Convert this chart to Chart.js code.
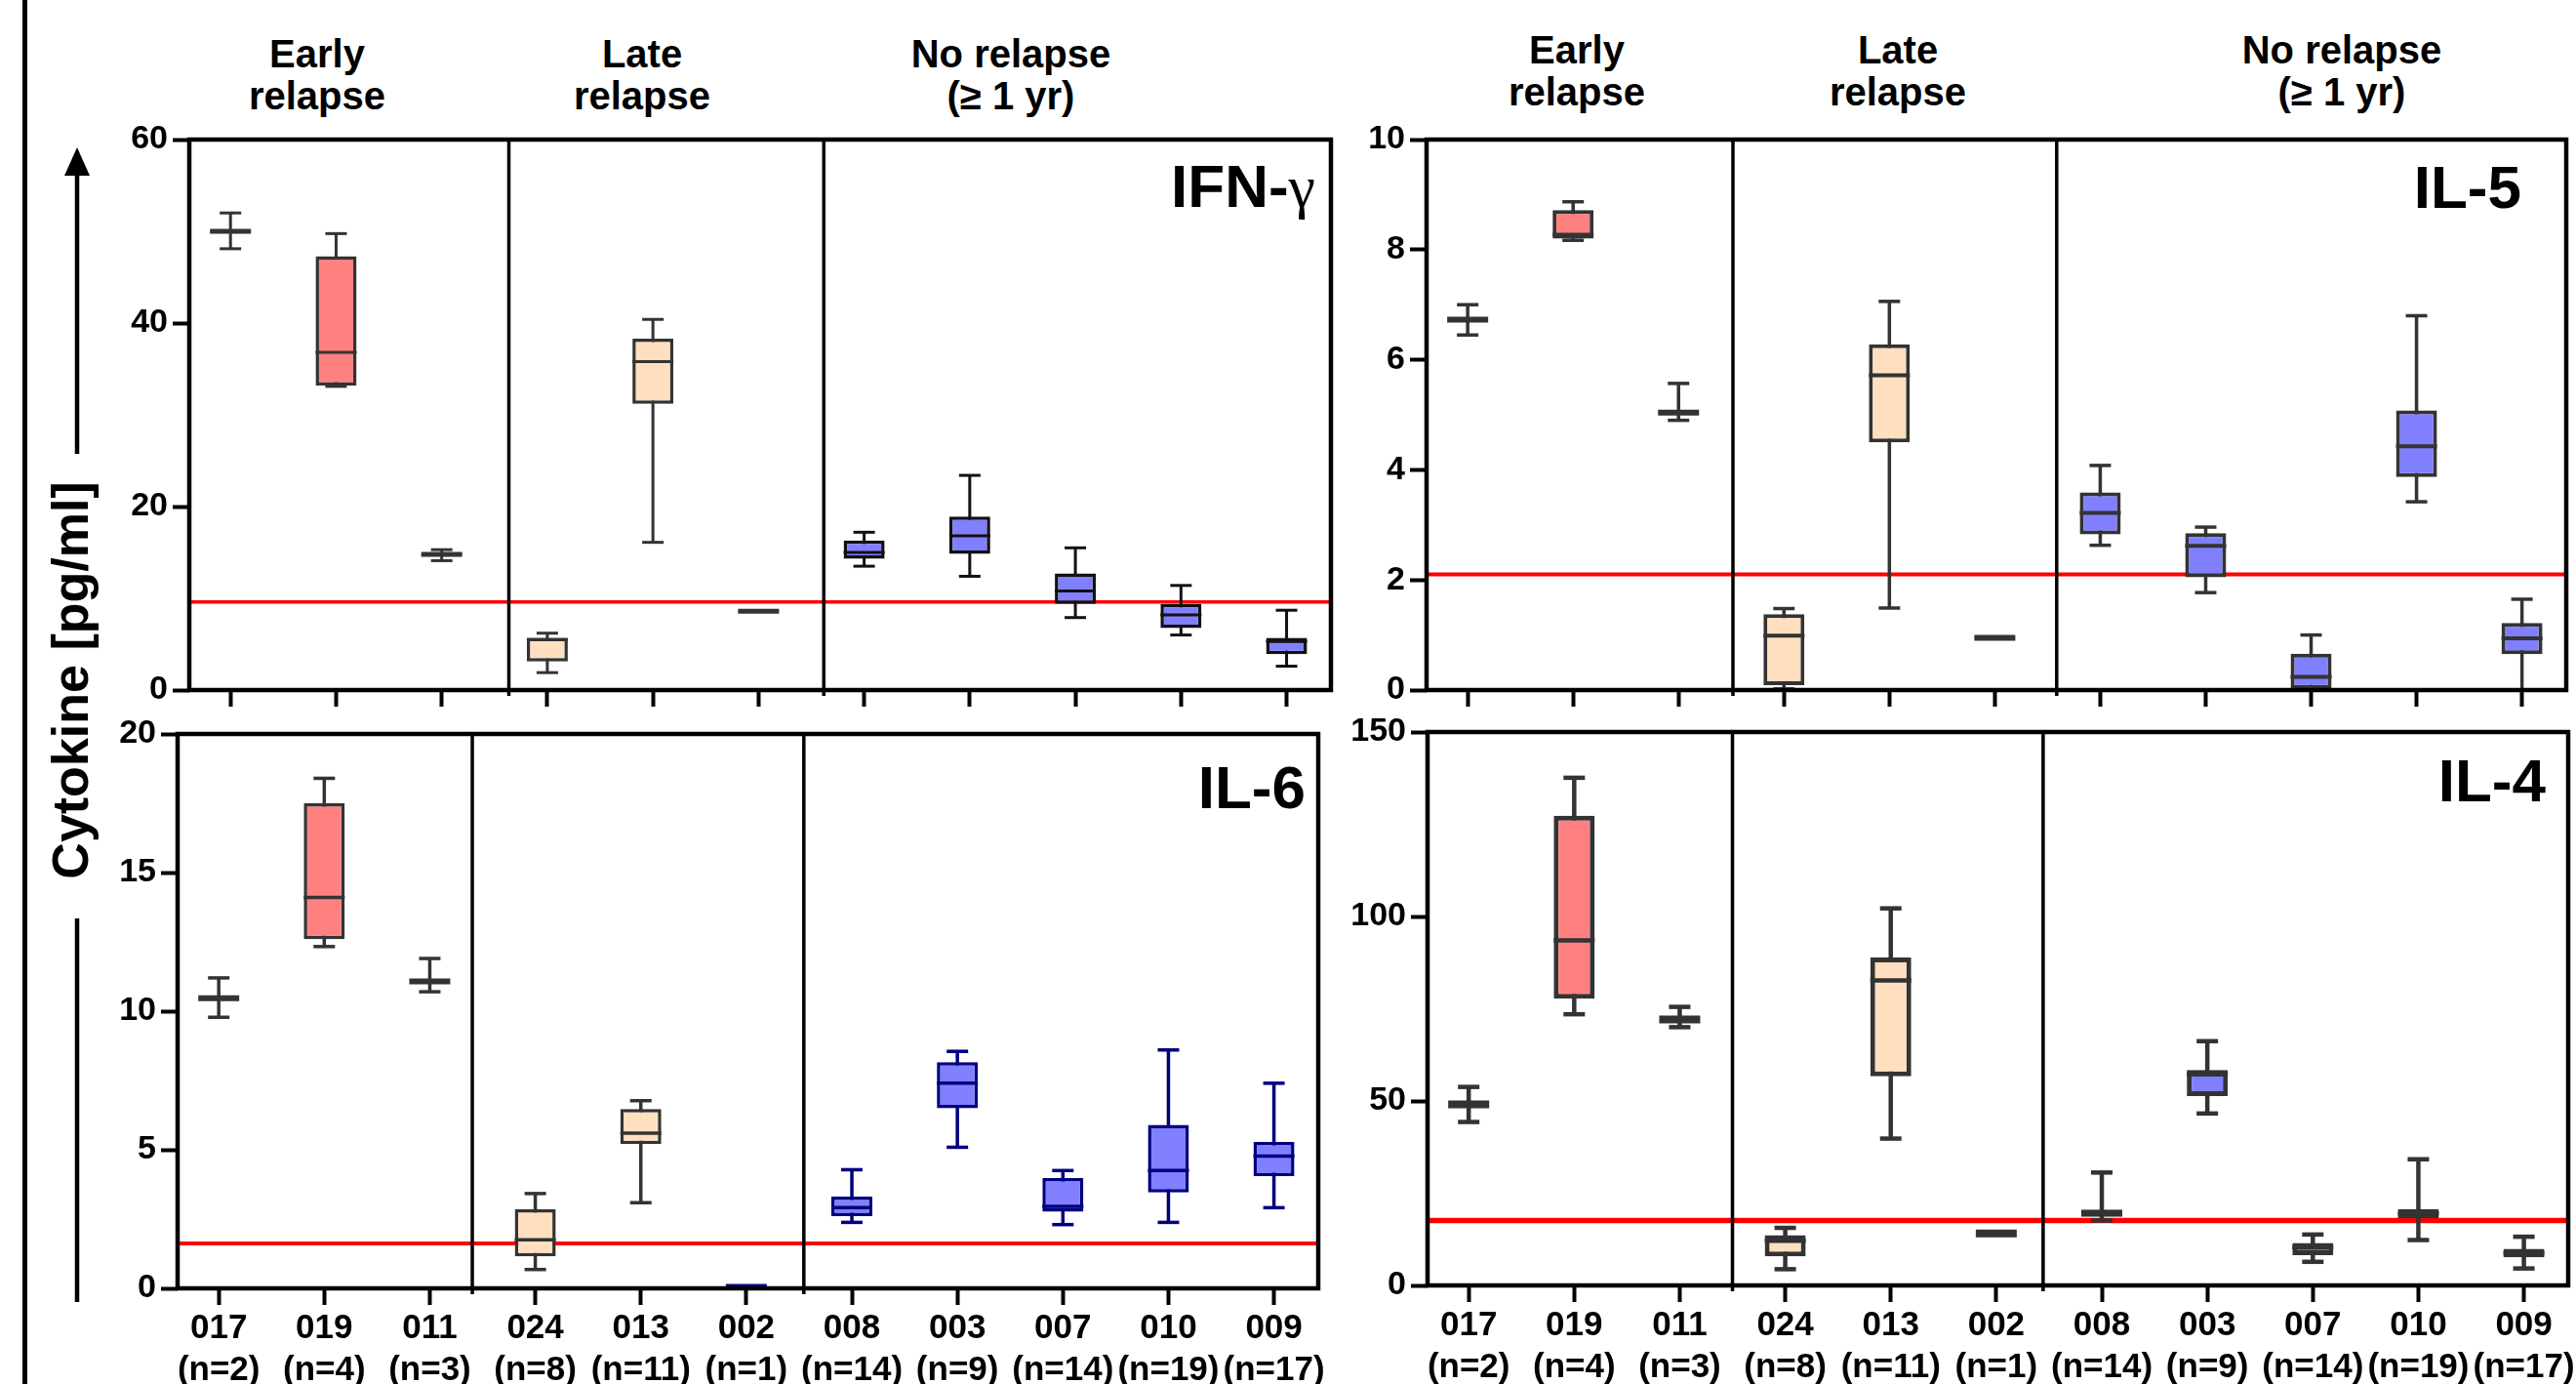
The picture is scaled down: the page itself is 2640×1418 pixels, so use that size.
<!DOCTYPE html>
<html>
<head>
<meta charset="utf-8">
<script src="https://cdn.jsdelivr.net/npm/chart.js@4.4.0/dist/chart.umd.min.js"></script>
<style>
html, body { margin:0; padding:0; background:#fff; overflow:hidden; }
#page { position:relative; width:2640px; height:1418px; overflow:hidden; font-family:'Liberation Sans', Arial, sans-serif; font-weight:bold; color:#000; }
canvas { position:absolute; }
.head { position:absolute; width:400px; text-align:center; font-size:40px; line-height:42.5px; }
.tag { position:absolute; font-size:62px; line-height:62px; white-space:nowrap; }
</style>
</head>
<body>
<div id="page">
  <div style="position:absolute;left:23px;top:0;width:5px;height:1418px;background:#000"></div>

  <svg style="position:absolute;left:0;top:0" width="140" height="1418">
    <line x1="79" y1="176" x2="79" y2="465" stroke="#000" stroke-width="4.5"/>
    <polygon points="79,151 66,180 92,180" fill="#000"/>
    <line x1="79" y1="941" x2="79" y2="1334" stroke="#000" stroke-width="4.5"/>
  </svg>
  <div style="position:absolute;left:-148px;top:671px;width:440px;height:52px;text-align:center;font-size:52px;line-height:52px;transform:rotate(-90deg)">Cytokine [pg/ml]</div>

  <div class="head" style="left:125px;top:34px">Early<br>relapse</div>
  <div class="head" style="left:458px;top:34px">Late<br>relapse</div>
  <div class="head" style="left:836px;top:34px">No relapse<br>(≥ 1 yr)</div>
  <div class="head" style="left:1416px;top:30px">Early<br>relapse</div>
  <div class="head" style="left:1745px;top:30px">Late<br>relapse</div>
  <div class="head" style="left:2200px;top:30px">No relapse<br>(≥ 1 yr)</div>

  <canvas id="ifn"></canvas>
  <canvas id="il5"></canvas>
  <canvas id="il6"></canvas>
  <canvas id="il4"></canvas>

  <div class="tag" style="right:1292px;top:160px">IFN-<span style="font-family:'Liberation Serif',serif;font-weight:normal">γ</span></div>
  <div class="tag" style="right:56px;top:161px">IL-5</div>
  <div class="tag" style="right:1302px;top:776px">IL-6</div>
  <div class="tag" style="right:31px;top:769px">IL-4</div>
</div>

<script>
// patients (x axis)
const ids = ['017', '019', '011', '024', '013', '002', '008', '003', '007', '010', '009'];
const ns = ['(n=2)', '(n=4)', '(n=3)', '(n=8)', '(n=11)', '(n=1)', '(n=14)', '(n=9)', '(n=14)', '(n=19)', '(n=17)'];

// IFN-gamma
const ifnMin = [48.1, 33.1, 14.1, 1.9, 16.1, null, 13.5, 12.4, 7.9, 6.0, 2.6];
const ifnQ1  = [null, 33.2, null, 3.1, 31.2, null, 14.3, 14.85, 9.4, 6.75, 3.9];
const ifnMed = [50.0, 36.8, 14.8, 5.5, 35.8, 8.6, 15.0, 16.8, 10.8, 8.2, 5.3];
const ifnQ3  = [null, 47.3, null, 5.7, 38.3, null, 16.3, 18.9, 12.7, 9.4, 5.7];
const ifnMax = [52.0, 49.75, 15.3, 6.2, 40.4, null, 17.2, 23.4, 15.5, 11.4, 8.7];
const ifnCut = 9.6;
const ifnTicks = [0, 20, 40, 60];

// IL-5
const il5Min = [6.45, 8.17, 4.9, 0.02, 1.49, null, 2.63, 1.77, 0.0, 3.42, 0.0];
const il5Q1  = [null, 8.2, null, 0.09, 4.5, null, 2.83, 2.05, 0.02, 3.87, 0.65];
const il5Med = [6.73, 8.27, 5.04, 0.99, 5.72, 0.95, 3.22, 2.62, 0.24, 4.43, 0.94];
const il5Q3  = [null, 8.72, null, 1.38, 6.28, null, 3.59, 2.85, 0.66, 5.08, 1.22];
const il5Max = [7.0, 8.87, 5.57, 1.48, 7.06, null, 4.08, 2.96, 1.0, 6.8, 1.65];
const il5Cut = 2.1;
const il5Ticks = [0, 2, 4, 6, 8, 10];

// IL-6
const il6Min = [9.78, 12.33, 10.7, 0.68, 3.09, null, 2.38, 5.09, 2.3, 2.38, 2.91];
const il6Q1  = [null, 12.6, null, 1.15, 5.2, null, 2.61, 6.5, 2.76, 3.46, 4.05];
const il6Med = [10.47, 14.1, 11.07, 1.75, 5.6, 0.05, 2.91, 7.4, 2.96, 4.25, 4.77];
const il6Q3  = [null, 17.5, null, 2.85, 6.47, null, 3.31, 8.16, 3.98, 5.9, 5.28];
const il6Max = [11.2, 18.4, 11.9, 3.42, 6.77, null, 4.28, 8.55, 4.25, 8.6, 7.4];
const il6Cut = 1.62;
const il6Ticks = [0, 5, 10, 15, 20];

// IL-4
const il4Min = [44.3, 73.5, 70.0, 4.4, 39.8, null, 17.6, 46.6, 6.4, 12.3, 4.6];
const il4Q1  = [null, 77.7, null, 7.9, 56.7, null, 18.6, 51.3, 8.2, 18.2, 7.6];
const il4Med = [49.05, 93.5, 72.1, 12.1, 82.7, 14.1, 19.5, 57.2, 10.3, 19.5, 8.7];
const il4Q3  = [null, 127.3, null, 13.6, 88.9, null, 20.6, 58.4, 11.5, 20.7, 9.9];
const il4Max = [53.8, 137.6, 75.5, 15.6, 102.2, null, 30.6, 66.2, 13.8, 34.2, 13.2];
const il4Cut = 17.6;
const il4Ticks = [0, 50, 100, 150];

const fills = ['#ff8080', '#ff8080', '#ff8080', '#ffdfbf', '#ffdfbf', '#ffdfbf',
               '#8080ff', '#8080ff', '#8080ff', '#8080ff', '#8080ff'];

Chart.defaults.font.family = "'Liberation Sans', Arial, sans-serif";
Chart.defaults.color = '#000';

// box frame + group dividers
const framePlugin = {
  id: 'frame',
  afterDatasetsDraw(chart, args, opts) {
    const {ctx, chartArea: a} = chart;
    const x = chart.scales.x;
    ctx.save();
    ctx.strokeStyle = '#000';
    ctx.lineWidth = 3.5;
    (opts.dividers || []).forEach(v => {
      const px = x.getPixelForValue(v);
      ctx.beginPath();
      ctx.moveTo(px, a.top);
      ctx.lineTo(px, a.bottom + 6);
      ctx.stroke();
    });
    ctx.lineWidth = 4.5;
    ctx.strokeRect(a.left, a.top, a.right - a.left, a.bottom - a.top);
    ctx.restore();
  }
};

function panel(id, box, d, st) {
  const cv = document.getElementById(id);
  const pl = 140, pt = 30, pr = 40, xh = 110;
  cv.width = box.r - box.l + pl + pr;
  cv.height = box.b - box.t + pt + xh;
  cv.style.left = (box.l - pl) + 'px';
  cv.style.top = (box.t - pt) + 'px';

  const xMin = -0.39, xMax = 10.42;
  const idx = ids.map((_, i) => i);
  const col = i => st.lines[i];

  const wIdx = idx.filter(i => d.min[i] != null);
  const bIdx = idx.filter(i => d.q1[i] != null);
  const caps = [], capCol = [];
  wIdx.forEach(i => {
    caps.push({x: i, y: d.max[i]}, {x: i, y: d.min[i]});
    capCol.push(col(i), col(i));
  });

  new Chart(cv, {
    type: 'bar',
    data: {
      datasets: [
        {
          type: 'line',
          data: [{x: xMin, y: d.cut}, {x: xMax, y: d.cut}],
          borderColor: '#ff0000',
          borderWidth: st.red,
          pointRadius: 0,
          order: 4
        },
        {
          data: wIdx.map(i => ({x: i, y: [d.min[i], d.max[i]]})),
          backgroundColor: wIdx.map(col),
          borderWidth: 0,
          grouped: false,
          maxBarThickness: st.ww,
          order: 3
        },
        {
          data: bIdx.map(i => ({x: i, y: [d.q1[i], d.q3[i]]})),
          backgroundColor: bIdx.map(i => fills[i]),
          borderColor: bIdx.map(col),
          borderWidth: st.bw,
          borderSkipped: false,
          grouped: false,
          maxBarThickness: 42,
          order: 2
        },
        {
          type: 'scatter',
          data: caps,
          pointStyle: 'line',
          pointRadius: 11,
          pointBorderWidth: st.ww,
          pointBorderColor: capCol,
          order: 1
        },
        {
          type: 'scatter',
          data: idx.map(i => ({x: i, y: d.med[i]})),
          pointStyle: 'line',
          pointRadius: 21,
          pointBorderWidth: idx.map(i => d.q1[i] == null ? st.thick : st.mw),
          pointBorderColor: idx.map(col),
          order: 1
        }
      ]
    },
    options: {
      responsive: false,
      animation: false,
      events: [],
      layout: {padding: {top: pt, right: pr, left: 0, bottom: 0}},
      plugins: {
        legend: {display: false},
        tooltip: {enabled: false},
        frame: {dividers: st.dividers}
      },
      scales: {
        x: {
          type: 'linear',
          min: xMin,
          max: xMax,
          offset: false,
          grid: {display: true, drawOnChartArea: false, drawTicks: true, tickLength: 17, tickWidth: 4, tickColor: '#000', offset: false},
          border: {display: false},
          afterBuildTicks: s => { s.ticks = idx.map(v => ({value: v})); },
          afterFit: s => { s.height = xh; },
          ticks: {
            padding: 2,
            maxRotation: 0,
            autoSkip: false,
            font: {size: 35, weight: 'bold', lineHeight: 1.25},
            callback: v => st.labels ? [ids[v], ns[v]] : ''
          }
        },
        y: {
          min: 0,
          max: d.ticks[d.ticks.length - 1],
          grid: {display: true, drawOnChartArea: false, drawTicks: true, tickLength: 17, tickWidth: 4, tickColor: '#000'},
          border: {display: false},
          afterBuildTicks: s => { s.ticks = d.ticks.map(v => ({value: v})); },
          afterFit: s => { s.width = pl; },
          ticks: {padding: 5, font: {size: 34, weight: 'bold'}, callback: v => v}
        }
      }
    },
    plugins: [framePlugin]
  });
}

const grey = '#333333';
const early = [grey, grey, grey, grey, grey, grey];

panel('ifn', {l: 194, r: 1364, t: 143, b: 707},
  {min: ifnMin, q1: ifnQ1, med: ifnMed, q3: ifnQ3, max: ifnMax, cut: ifnCut, ticks: ifnTicks},
  {bw: 3.5, ww: 3, mw: 3, thick: 5, red: 3.5, labels: false, dividers: [2.636, 5.618],
   lines: early.concat(['#111111', '#111111', '#111111', '#111111', '#111111'])});

panel('il5', {l: 1462, r: 2630, t: 143, b: 707},
  {min: il5Min, q1: il5Q1, med: il5Med, q3: il5Q3, max: il5Max, cut: il5Cut, ticks: il5Ticks},
  {bw: 4, ww: 3.5, mw: 4, thick: 6, red: 4, labels: false, dividers: [2.516, 5.587],
   lines: early.concat([grey, grey, grey, grey, grey])});

panel('il6', {l: 182, r: 1351, t: 752, b: 1320},
  {min: il6Min, q1: il6Q1, med: il6Med, q3: il6Q3, max: il6Max, cut: il6Cut, ticks: il6Ticks},
  {bw: 3.5, ww: 3.5, mw: 3.5, thick: 6, red: 4, labels: true, dividers: [2.403, 5.545],
   lines: [grey, grey, grey, grey, grey, '#000080', '#000080', '#000080', '#000080', '#000080', '#000080']});

panel('il4', {l: 1463, r: 2632, t: 750, b: 1317},
  {min: il4Min, q1: il4Q1, med: il4Med, q3: il4Q3, max: il4Max, cut: il4Cut, ticks: il4Ticks},
  {bw: 5, ww: 4.5, mw: 4.5, thick: 8, red: 5.5, labels: true, dividers: [2.5, 5.444],
   lines: early.concat([grey, grey, grey, grey, grey])});
</script>
</body>
</html>
